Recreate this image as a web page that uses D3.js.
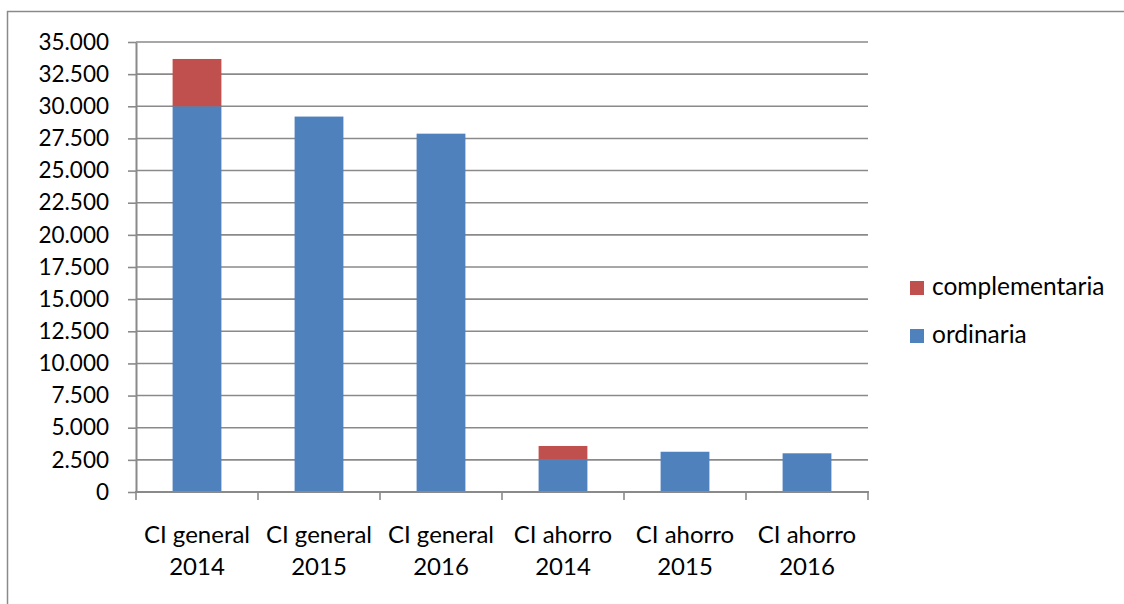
<!DOCTYPE html>
<html>
<head>
<meta charset="utf-8">
<script src="https://cdn.jsdelivr.net/npm/d3@7"></script>
<style>
  html, body { margin: 0; padding: 0; background: #fff; }
  svg { display: block; font-family: Lato, "Open Sans", sans-serif; }
</style>
</head>
<body>
<svg id="chart" width="1124" height="604"></svg>
<script>
const categories = ["CI general 2014", "CI general 2015", "CI general 2016", "CI ahorro 2014", "CI ahorro 2015", "CI ahorro 2016"];
const ordinaria = [30000, 29200, 27870, 2540, 3130, 3010];
const complementaria = [3680, 0, 0, 1040, 0, 0];
const seriesNames = ["ordinaria", "complementaria"];
const seriesColors = ["#4F81BD", "#C0504D"];
const yTicks = d3.range(0, 35001, 2500);

const svg = d3.select("#chart");
const plot = { left: 136, right: 868, top: 42, bottom: 492 };

// chart frame
svg.append("rect")
  .attr("x", 7.5).attr("y", 11.5)
  .attr("width", 1200).attr("height", 700)
  .attr("fill", "none").attr("stroke", "#8a8a8a").attr("stroke-width", 1.5);

const table = categories.map((c, i) => ({ cat: c, ordinaria: ordinaria[i], complementaria: complementaria[i] }));
const stacked = d3.stack().keys(seriesNames)(table);

const xBand = d3.scaleBand().domain(categories).range([plot.left, plot.right]).padding(0);
const xBar = d3.scaleBand().domain(categories).range([plot.left, plot.right]).paddingInner(0.6).paddingOuter(0.3);
const y = d3.scaleLinear().domain([0, 35000]).range([plot.bottom, plot.top]);

const locale = d3.formatLocale({ decimal: ",", thousands: ".", grouping: [3], currency: ["", ""] });
const fmt = locale.format(",");

// gridlines
svg.append("g").selectAll("line").data(yTicks.filter(d => d > 0)).join("line")
  .attr("x1", plot.left).attr("x2", plot.right)
  .attr("y1", d => y(d)).attr("y2", d => y(d))
  .attr("stroke", "#8a8a8a").attr("stroke-width", 1.6);

// bars
svg.append("g").selectAll("g").data(stacked).join("g")
  .attr("fill", (d, i) => seriesColors[i])
  .selectAll("rect").data(d => d.filter(p => p[1] > p[0])).join("rect")
  .attr("x", d => xBar(d.data.cat))
  .attr("width", xBar.bandwidth())
  .attr("y", d => y(d[1]))
  .attr("height", d => y(d[0]) - y(d[1]));

// y axis
const yAxis = svg.append("g").attr("transform", `translate(${plot.left},0)`)
  .call(d3.axisLeft(y).tickValues(yTicks).tickFormat(fmt).tickSize(8).tickPadding(19).tickSizeOuter(0));
yAxis.select(".domain").attr("stroke", "#8a8a8a").attr("stroke-width", 2);
yAxis.selectAll(".tick line").attr("stroke", "#8a8a8a").attr("stroke-width", 1.6);
yAxis.selectAll(".tick text").attr("font-size", 22.5).attr("fill", "#000").attr("font-family", "Lato, sans-serif");

// x axis
const xAxisG = svg.append("g").attr("transform", `translate(0,${plot.bottom})`);
xAxisG.append("line").attr("x1", plot.left - 1).attr("x2", plot.right + 1)
  .attr("stroke", "#8a8a8a").attr("stroke-width", 2);
const boundaries = categories.map(c => xBand(c)).concat([plot.right]);
xAxisG.selectAll("line.tk").data(boundaries).join("line").attr("class", "tk")
  .attr("x1", d => d).attr("x2", d => d).attr("y1", 0).attr("y2", 8)
  .attr("stroke", "#8a8a8a").attr("stroke-width", 1.6);
const labels = xAxisG.selectAll("text").data(categories).join("text")
  .attr("text-anchor", "middle")
  .attr("font-size", 24).attr("fill", "#000");
labels.each(function(c) {
  const idx = c.lastIndexOf(" ");
  const lines = [c.slice(0, idx), c.slice(idx + 1)];
  const cx = xBand(c) + xBand.bandwidth() / 2;
  d3.select(this).selectAll("tspan").data(lines).join("tspan")
    .attr("x", cx).attr("y", (d, i) => 51 + i * 32).text(d => d);
});

// legend
const legendItems = ["complementaria", "ordinaria"];
const legendColor = { ordinaria: seriesColors[0], complementaria: seriesColors[1] };
const lg = svg.append("g").selectAll("g").data(legendItems).join("g")
  .attr("transform", (d, i) => `translate(910,${281 + i * 48})`);
lg.append("rect").attr("width", 14).attr("height", 14).attr("fill", d => legendColor[d]);
lg.append("text").attr("x", 22).attr("y", 14).attr("font-size", 24.5).attr("fill", "#000").text(d => d);
</script>
</body>
</html>
